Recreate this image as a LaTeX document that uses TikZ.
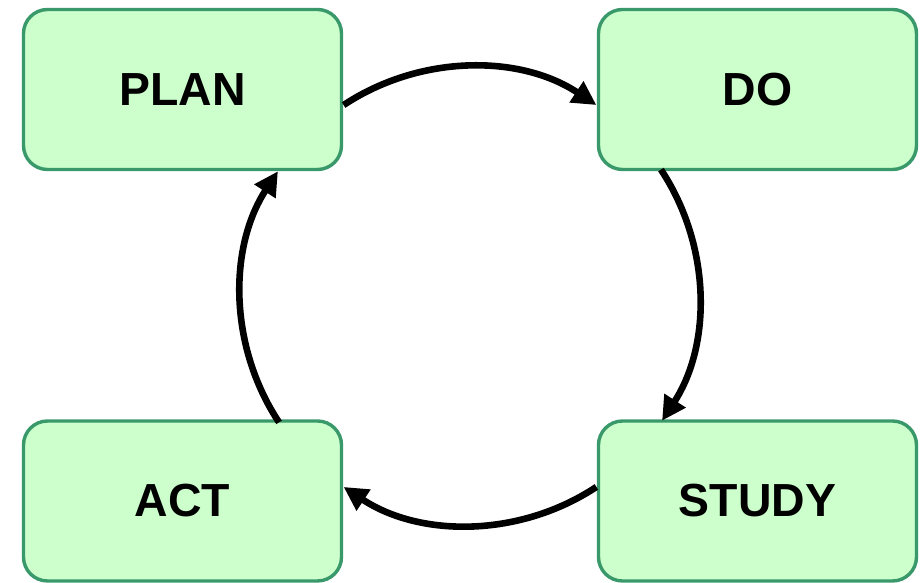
\documentclass[tikz,border=0pt]{standalone}
\usepackage{fontspec}
\setmainfont{Liberation Sans}
\usetikzlibrary{arrows.meta}

\definecolor{boxfill}{HTML}{CCFFCC}
\definecolor{boxline}{HTML}{3A996A}

\begin{document}
\begin{tikzpicture}[x=0.5pt,y=0.5pt,
    phase/.style={draw=boxline,fill=boxfill,line width=1.7pt,rounded corners=12pt,
        minimum width=159pt,minimum height=80pt,
        font=\fontsize{23.2}{28}\selectfont\bfseries},
    cyclearrow/.style={line width=3.3pt,-{Triangle[length=12pt,width=12pt]}}]
        \useasboundingbox (0,0) rectangle (923,583);
        % the four phases
        \node[phase] (plan) at (182.5,493.5) {PLAN};
        \node[phase] (do) at (757.5,493.5) {DO};
        \node[phase] (study) at (757.5,82) {STUDY};
        \node[phase] (act) at (182.5,82) {ACT};
        \coordinate (hub) at (470,287);
        % the cycle
        \draw[cyclearrow] (hub) ++(123.5:114.5pt) arc[start angle=123.5,end angle=56.5,radius=114.5pt];
        \draw[cyclearrow] (hub) ++(33.5:114.5pt) arc[start angle=33.5,end angle=-33,radius=114.5pt];
        \draw[cyclearrow] (hub) ++(-56.5:114.5pt) arc[start angle=-56.5,end angle=-123.5,radius=114.5pt];
        \draw[cyclearrow] (hub) ++(213.5:114.5pt) arc[start angle=213.5,end angle=147,radius=114.5pt];
\end{tikzpicture}
\end{document}
